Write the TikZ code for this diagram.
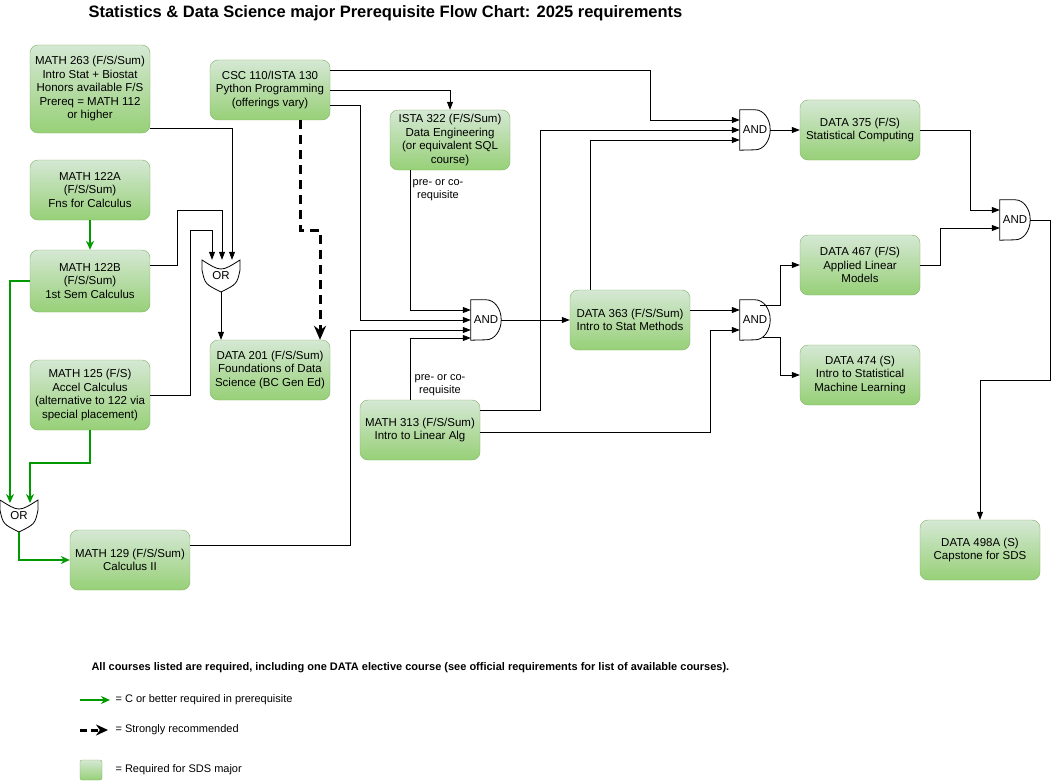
\documentclass[tikz,border=0pt]{standalone}
\usepackage{fontspec}
\setmainfont{Liberation Sans}
\usetikzlibrary{arrows.meta,calc}
\definecolor{gtop}{HTML}{D5E8D4}
\definecolor{gbot}{HTML}{97D077}
\definecolor{gbord}{HTML}{82B366}
\definecolor{garr}{HTML}{009900}
\begin{document}
\begin{tikzpicture}[x=1pt,y=-1pt,
  course/.style={draw=gbord,top color=gtop,bottom color=gbot,rounded corners=8pt,minimum width=120pt,minimum height=60pt,align=center,font=\fontsize{11.5}{13.5}\selectfont,inner sep=2pt},
  gate/.style={minimum width=30pt,minimum height=40pt,inner sep=0pt,font=\fontsize{11.5}{13}\selectfont},
  ogate/.style={minimum width=38pt,minimum height=32pt,inner sep=0pt,font=\fontsize{11.5}{13}\selectfont},
  con/.style={-{Triangle[length=8pt,width=6pt]},line width=0.8pt},
  gcon/.style={-{Stealth[length=9pt,width=8pt]},line width=1.6pt,draw=garr},
  dcon/.style={-{Stealth[length=14pt,width=12pt]},line width=3pt,dash pattern=on 9pt off 6pt},
  lbl/.style={font=\fontsize{11}{13}\selectfont,align=center,fill=white,inner sep=1pt}]
\newcommand\andgate[1]{\draw[line width=0.8pt] (#1.north west) -- ([xshift=-15pt]#1.north east) arc[start angle=90,end angle=-90,x radius=15pt,y radius=20pt] -- (#1.south west) -- cycle;}
\newcommand\orgate[1]{\draw[line width=0.8pt] ([shift={(-19,-16)}]#1.center) .. controls ([shift={(0,-4)}]#1.center) .. ([shift={(19,-16)}]#1.center) -- ([shift={(19,-6)}]#1.center) .. controls ([shift={(16,8)}]#1.center) .. ([shift={(0,16)}]#1.center) .. controls ([shift={(-16,8)}]#1.center) .. ([shift={(-19,-6)}]#1.center) -- cycle;}
\useasboundingbox[fill=white] (0,0) rectangle (1059,781);
\node[anchor=west,font=\bfseries\fontsize{16.5}{19}\selectfont] (title) at (85,13) {Statistics \& Data Science major Prerequisite Flow Chart: 2025 requirements};

\node[course,minimum height=88pt] (m263) at (90,89) {MATH 263 (F/S/Sum)\\Intro Stat + Biostat\\Honors available F/S\\Prereq = MATH 112\\or higher};
\node[course] (csc) at (270,90) {CSC 110/ISTA 130\\Python Programming\\(offerings vary)};
\node[course] (ista) at (450,140) {ISTA 322 (F/S/Sum)\\Data Engineering\\(or equivalent SQL\\course)};
\node[course] (m122a) at (90,190) {MATH 122A\\(F/S/Sum)\\Fns for Calculus};
\node[course,minimum height=62pt] (m122b) at (90,281) {MATH 122B\\(F/S/Sum)\\1st Sem Calculus};
\node[course,minimum height=70pt] (m125) at (90,395) {MATH 125 (F/S)\\Accel Calculus\\(alternative to 122 via\\special placement)};
\node[course] (d201) at (270,370) {DATA 201 (F/S/Sum)\\Foundations of Data\\Science (BC Gen Ed)};
\node[course] (d363) at (630,320) {DATA 363 (F/S/Sum)\\Intro to Stat Methods};
\node[course] (m313) at (420,430) {MATH 313 (F/S/Sum)\\Intro to Linear Alg};
\node[course] (d375) at (860,130) {DATA 375 (F/S)\\Statistical Computing};
\node[course] (d467) at (860,265) {DATA 467 (F/S)\\Applied Linear\\Models};
\node[course] (d474) at (860,375) {DATA 474 (S)\\Intro to Statistical\\Machine Learning};
\node[course] (d498) at (980,550) {DATA 498A (S)\\Capstone for SDS};
\node[course] (m129) at (130,560) {MATH 129 (F/S/Sum)\\Calculus II};

\node[gate] (and1) at (486,320) {AND};
\node[gate] (and2) at (755,130) {AND};
\node[gate] (and3) at (1015,220) {AND};
\node[gate] (and4) at (755,320) {AND};
\andgate{and1}\andgate{and2}\andgate{and3}\andgate{and4}
\node[ogate] (or1) at (221,276) {\raisebox{-3pt}{OR}};
\node[ogate] (or2) at (19,516) {\raisebox{-3pt}{OR}};
\orgate{or1}\orgate{or2}

% OR1 inputs
\draw[con] (m263.east |- 0,128) -| (or1.north -| 232,0);
\draw[con] (m122b.east |- 0,265) -- (177,265) |- (222,210) -- (or1.north -| 222,0);
\draw[con] (m125.east) -- (190,395) |- (212,230) -- (or1.north -| 212,0);
\draw[con] (or1.south) -- (d201.north -| or1.south);
\draw[dcon] (csc.south -| 300,0) -- (300,230) -- (320,230) -- (d201.north -| 320,0);

% CSC outputs
\draw[con] (csc.east |- 0,70) -- (650,70) |- (and2.west |- 0,120);
\draw[con] (csc.east |- 0,90) -| (ista.north);
\draw[con] (csc.east |- 0,105) -- (360,105) |- (and1.west |- 0,320);
\draw[con] (ista.south -| 410,0) |- (and1.west |- 0,310);
\node[lbl] (l1) at (438,190) {pre- or co-\\requisite};
\draw[con] (m129.east |- 0,545) -- (350,545) |- (and1.west |- 0,330);
\draw[con] (m313.north -| 410,0) |- (and1.west |- 0,338);
\node[lbl] (l2) at (440,385) {pre- or co-\\requisite};
\draw[con] (and1.east) -- (d363.west);

\draw[con] (d363.north -| 590,0) |- (and2.west |- 0,140);
\draw[con] (m313.east |- 0,410) -- (540,410) |- (and2.west |- 0,130);
\draw[con] (and2.east) -- (d375.west);
\draw[con] (d375.east) -- (970,130) |- (and3.west |- 0,210);
\draw[con] (d467.east) -- (940,265) |- (and3.west |- 0,228);
\draw[con] (and3.east) -- (1050,220) |- (980,380) -- (d498.north);

\draw[con] (d363.east |- 0,310) -- (and4.west |- 0,310);
\draw[con] (m313.east |- 0,432) -- (710,432) |- (and4.west |- 0,330);
\draw[con] ([shift={(5,-15)}]and4.center) -- (780,305) |- (d467.west);
\draw[con] ([shift={(8,17)}]and4.center) -- (780,337) |- (d474.west);

% green
\draw[gcon] (m122a.south) -- (m122b.north);
\draw[gcon] (m122b.west) -- (10,281) -- (10,503);
\draw[gcon] (m125.south) -- (90,463) -- (30,463) -- (30,503);
\draw[gcon] (or2.south) -- (19,560) -- (m129.west);

% legend
\node[anchor=west,font=\bfseries\fontsize{11}{13}\selectfont] (lg0) at (88,668) {All courses listed are required, including one DATA elective course (see official requirements for list of available courses).};
\coordinate (ga) at (80,700); \coordinate (gb) at (110,700);
\draw[gcon] (ga) -- (gb);
\node[anchor=west,font=\fontsize{11}{13}\selectfont] (lg1) at (112,700) {= C or better required in prerequisite};
\coordinate (da) at (80,730); \coordinate (db) at (108,730);
\draw[-{Stealth[length=12pt,width=11pt]},line width=3pt,dash pattern=on 7pt off 4pt] (da) -- (db);
\node[anchor=west,font=\fontsize{11}{13}\selectfont] (lg2) at (112,730) {= Strongly recommended};
\node[draw=gbord,top color=gtop,bottom color=gbot,rounded corners=2pt,minimum width=22pt,minimum height=20pt] (lsq) at (91,770) {};
\node[anchor=west,font=\fontsize{11}{13}\selectfont] (lg3) at (112,770) {= Required for SDS major};
\end{tikzpicture}
\end{document}
